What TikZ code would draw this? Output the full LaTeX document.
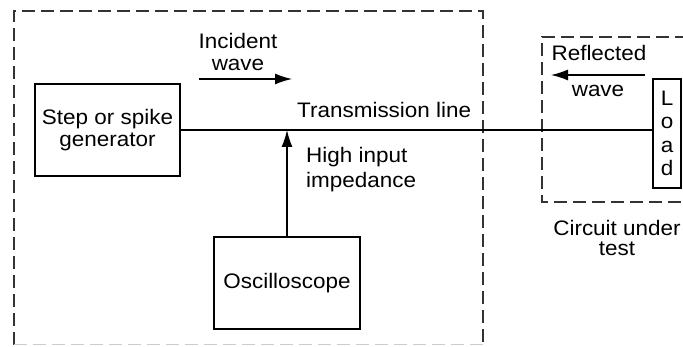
\documentclass[tikz,border=0pt]{standalone}
\usepackage{fontspec}
\setmainfont{Liberation Sans}[FakeStretch=1.07]
\usetikzlibrary{arrows.meta}
\begin{document}
\begin{tikzpicture}[x=1pt,y=-1pt,
  lbl/.style={font=\fontsize{21}{22}\selectfont, inner sep=0pt},
  blk/.style={draw, line width=1.4pt, inner sep=0pt, align=center, font=\fontsize{21}{22}\selectfont},
  wire/.style={line width=1.4pt},
  dashbox/.style={line width=1.5pt, dash pattern=on 13pt off 6pt, draw=black!80},
  arr/.style={line width=1.4pt, -{Latex[length=17pt,width=11pt]}}]
\useasboundingbox (0,0) rectangle (683,347);
\begin{scope}
\clip (0,0) rectangle (683,347);
% big dashed box
\draw[dashbox] (14,345) -- (14,11) -- (483,11) -- (483,347);
\draw[dashbox, draw=black!20, line width=1pt] (14,345) -- (483,345);
% circuit under test dashed box
\draw[dashbox] (700,202) -- (542,202) -- (542,37) -- (700,37);
\end{scope}
% blocks
\node[blk, minimum width=145pt, minimum height=92pt] (gen) at (107.5,130) {Step or spike\\generator};
\node[blk, minimum width=146pt, minimum height=92pt] (osc) at (287,283) {Oscilloscope};
\node[blk, minimum width=28pt, minimum height=109pt, font=\fontsize{21}{23.5}\selectfont] (load) at (667,133.5) {L\\o\\a\\d};
% transmission line
\coordinate (tap) at (osc.north |- gen.east);
\draw[wire] (gen.east) -- (gen.east -| load.west);
\draw[arr] (osc.north) -- (tap);
% labels
\node[lbl, align=center] (inc) at (238,52) {Incident\\wave};
\coordinate (ia) at (199,79);
\coordinate (ib) at (292,79);
\draw[arr] (ia) -- (ib);
\node[lbl, anchor=west] (tl) at (297,110) {Transmission line};
\node[lbl, anchor=west, align=left, font=\fontsize{21}{25}\selectfont] (hi) at (306,170) {High input\\impedance};
\node[lbl] (refl) at (599,53) {Reflected};
\node[lbl] (rwave) at (598,91) {wave};
\coordinate (ra) at (645,75);
\coordinate (rb) at (551,75);
\draw[arr] (ra) -- (rb);
\node[lbl, align=center, font=\fontsize{21}{20.5}\selectfont] (cut) at (617,238) {Circuit under\\test};
\end{tikzpicture}
\end{document}
